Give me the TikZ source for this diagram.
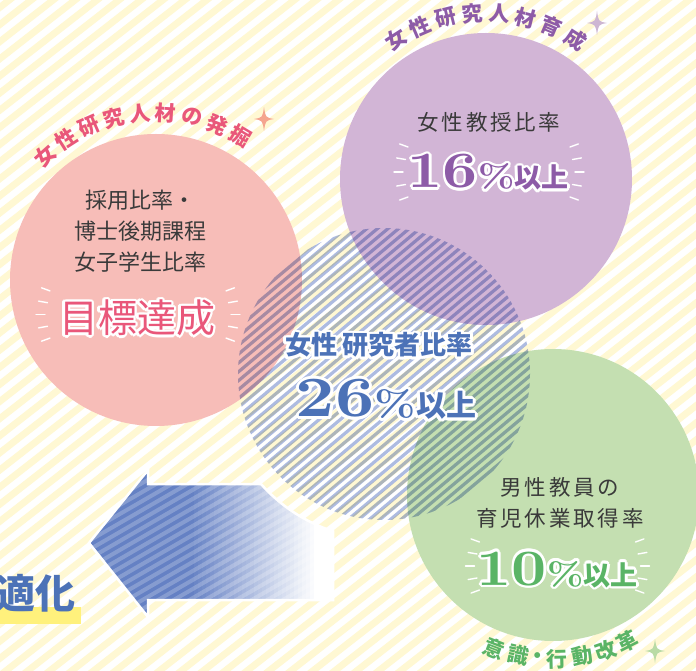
\documentclass[tikz,border=0pt]{standalone}
\usepackage{fontspec}
\usetikzlibrary{calc}
\newfontfamily\jp{Noto Sans CJK JP}
\newfontfamily\numfont[FakeStretch=1.2]{lmroman10-bold.otf}
\definecolor{bgy}{HTML}{FFF8D3}
\definecolor{pinkfill}{HTML}{F7BDB8}
\definecolor{purfill}{HTML}{D2B5D6}
\definecolor{grnfill}{HTML}{C4DFB1}
\definecolor{bstripe}{HTML}{ADBBE1}
\definecolor{pinkt}{HTML}{E9577A}
\definecolor{purt}{HTML}{8D5BA7}
\definecolor{grnt}{HTML}{5AB466}
\definecolor{bluet}{HTML}{4C72B7}
\definecolor{darkt}{HTML}{3A3A3A}
\definecolor{arrowb}{HTML}{6581C4}
\definecolor{hly}{HTML}{FFF17C}
\definecolor{sppink}{HTML}{F5A58F}
\definecolor{sppur}{HTML}{CDB6D3}
\definecolor{spgrn}{HTML}{B9DBA5}
\newlength\halow
\newcommand\halo[2]{\setlength\halow{#1}%
  \foreach \hx/\hy in {1/0,0.87/0.5,0.5/0.87,0/1,-0.5/0.87,-0.87/0.5,-1/0,-0.87/-0.5,-0.5/-0.87,0/-1,0.5/-0.87,0.87/-0.5}{%
    \rlap{\hspace*{\hx\halow}\raisebox{\hy\halow}{\color{white}#2}}}#2}
\newcommand\burst[4]{% cx cy w step
  \foreach \k in {-2,...,2}{%
    \pgfmathsetmacro\by{#2+\k*#4}%
    \pgfmathsetmacro\bin{#3-abs(\k)*2.5}%
    \pgfmathsetmacro\ba{\k*10}%
    \pgfmathsetmacro\bb{180-\k*10}%
    \draw[burstline] (#1+\bin,\by) -- ++(\ba:9);
    \draw[burstline] (#1-\bin,\by) -- ++(\bb:9);
  }}
\tikzset{
  base/.style={inner sep=0pt, outer sep=0pt},
  disc/.style={circle, minimum size=292pt, inner sep=0pt, outer sep=0pt},
  bodyA/.style={base, text=darkt, align=center, font=\jp\fontsize{22}{31}\selectfont},
  bodyB/.style={base, text=darkt, align=center, font=\jp\fontsize{21.5}{31}\selectfont\addfontfeatures{LetterSpace=13}},
  arcP/.style={base, text=pinkt, font=\jp\bfseries\fontsize{21}{21}\selectfont},
  arcU/.style={base, text=purt, font=\jp\bfseries\fontsize{21}{21}\selectfont},
  arcG/.style={base, text=grnt, font=\jp\bfseries\fontsize{21}{21}\selectfont},
  burstline/.style={white, line width=1.4pt, line cap=round},
  sparkle/.pic={\fill (0,12) .. controls (1.5,1.5) .. (10,0) .. controls (1.5,-1.5) .. (0,-12) .. controls (-1.5,-1.5) .. (-10,0) .. controls (-1.5,1.5) .. cycle;},
}
\begin{document}
\begin{tikzpicture}[x=1pt,y=1pt]
\useasboundingbox (0,0) rectangle (696,670);
\fill[white] (0,0) rectangle (696,670);
% background stripes
\begin{scope}
  \clip (0,0) rectangle (696,670);
  \begin{scope}[rotate around={38:(348,335)}]
    \foreach \k in {-40,...,40}{\draw[bgy, line width=6.8pt] (-250,335+\k*13.5) -- (950,335+\k*13.5);}
  \end{scope}
\end{scope}
\coordinate (cP) at (156,390);
\coordinate (cU) at (486,491);
\coordinate (cB) at (384,296);
\coordinate (cG) at (553,175);
\node[disc, fill=pinkfill] (pinkdisc) at (cP) {};
\node[disc, fill=purfill] (purdisc) at (cU) {};
\node[disc, fill=grnfill] (grndisc) at (cG) {};
% blue striped circle
\begin{scope}[blend mode=multiply]
  \clip (cB) circle[radius=146];
  \begin{scope}[rotate around={40:(cB)}]
    \foreach \k in {-23,...,23}{\draw[bstripe, line width=3.2pt] (234,296+\k*6.8) -- (534,296+\k*6.8);}
  \end{scope}
\end{scope}
% arrow
\coordinate (at) at (89,127);
\coordinate (aht) at (148,200);
\coordinate (ahi) at (148,186);
\coordinate (ast) at (261,186);
\coordinate (asr) at (333,70);
\coordinate (asb) at (148,70);
\coordinate (ahb) at (148,53);
\begin{scope}
  \clip (at) -- (aht) -- (ahi) -- (ast) arc[start angle=221.6, end angle=251.9, radius=165] -- (asr) -- (asb) -- (ahb) -- cycle;
  \foreach \i in {0,...,62}{%
    \pgfmathsetmacro\xx{86+\i*4}%
    \pgfmathtruncatemacro\qq{100-max(0,min(100,(\xx-190)/125*100))}%
    \fill[arrowb!\qq!white] (\xx,40) rectangle (\xx+4.4,210);}
  \begin{scope}[rotate around={30:(210,127)}]
    \foreach \k in {-22,...,22}{\draw[white, opacity=0.22, line width=4pt] (40,127+\k*7.8) -- (380,127+\k*7.8);}
  \end{scope}
\end{scope}
\draw[white, line width=2.5pt, line join=miter] (at) -- (aht) -- (ahi) -- (ast) arc[start angle=221.6, end angle=251.9, radius=165] -- (asr) -- (asb) -- (ahb) -- cycle;
% highlight + text
\fill[hly] (0,46) rectangle (81,63);
\node[base, anchor=east, text=bluet, font=\jp\bfseries\fontsize{40}{40}\selectfont] (opt) at (75,77) {適化};
% pink circle texts
\node[bodyA] (pbody) at (140,439) {採用比率・\\博士後期課程\\女子学生比率};
\node[base, text=pinkt, font=\jp\fontsize{39}{39}\selectfont] (pgoal) at (137,352) {\halo{2.6pt}{目標達成}};
\burst{138}{355.5}{93}{11.8}
% purple
\node[bodyB] (ubody) at (489,548) {女性教授比率};
\node[base, anchor=base, text=purt] (unum) at (488,482) {\halo{2.6pt}{{\numfont\fontsize{51}{51}\selectfont 16}{\numfont\fontsize{32}{32}\selectfont\%}{\jp\bfseries\fontsize{27}{27}\selectfont 以上}}};
\burst{489}{498}{86}{12.5}
% green
\node[bodyB] (gbody) at (560,167) {男性教員の\\育児休業取得率};
\node[base, anchor=base, text=grnt] (gnum) at (557,85) {\halo{2.6pt}{{\numfont\fontsize{51}{51}\selectfont 10}{\numfont\fontsize{32}{32}\selectfont\%}{\jp\bfseries\fontsize{27}{27}\selectfont 以上}}};
\burst{557.5}{104}{83}{12}
% center
\node[base, text=bluet, font=\jp\bfseries\fontsize{26}{26}\selectfont] (btitle) at (379,325) {\halo{2.6pt}{女性\hspace{6pt}研究者比率}};
\node[base, anchor=base, text=bluet] (bnum) at (386,253) {\halo{3pt}{{\numfont\fontsize{57}{57}\selectfont 26}{\numfont\fontsize{36}{36}\selectfont\%}{\jp\bfseries\fontsize{30}{30}\selectfont 以上}}};
% arc labels
\foreach \ch [count=\i] in {女,性,研,究,人,材,の,発,掘}{%
  \pgfmathsetmacro\ang{131.6-(\i-1)*9}%
  \pgfmathsetmacro\rot{\ang-90}%
  \node[arcP, rotate=\rot] (pa\i) at ([shift={(\ang:167)}]cP) {\ch};}
\foreach \ch [count=\i] in {女,性,研,究,人,材,育,成}{%
  \pgfmathsetmacro\ang{122.8-(\i-1)*9.34}%
  \pgfmathsetmacro\rot{\ang-90}%
  \node[arcU, rotate=\rot] (ua\i) at ([shift={(\ang:166)}]cU) {\ch};}
\foreach \ch/\ang [count=\i] in {意/-110.9,識/-102.3,・/-95.4,行/-88.6,動/-79.6,改/-71.2,革/-63}{%
  \pgfmathsetmacro\rot{\ang+90}%
  \node[arcG, rotate=\rot] (ga\i) at ([shift={(\ang:164)}]cG) {\ch};}
% sparkles
\pic[fill=sppink] at (264,551) {sparkle};
\pic[fill=sppur] at (597,647) {sparkle};
\pic[fill=spgrn] at (655,19) {sparkle};
\end{tikzpicture}
\end{document}
